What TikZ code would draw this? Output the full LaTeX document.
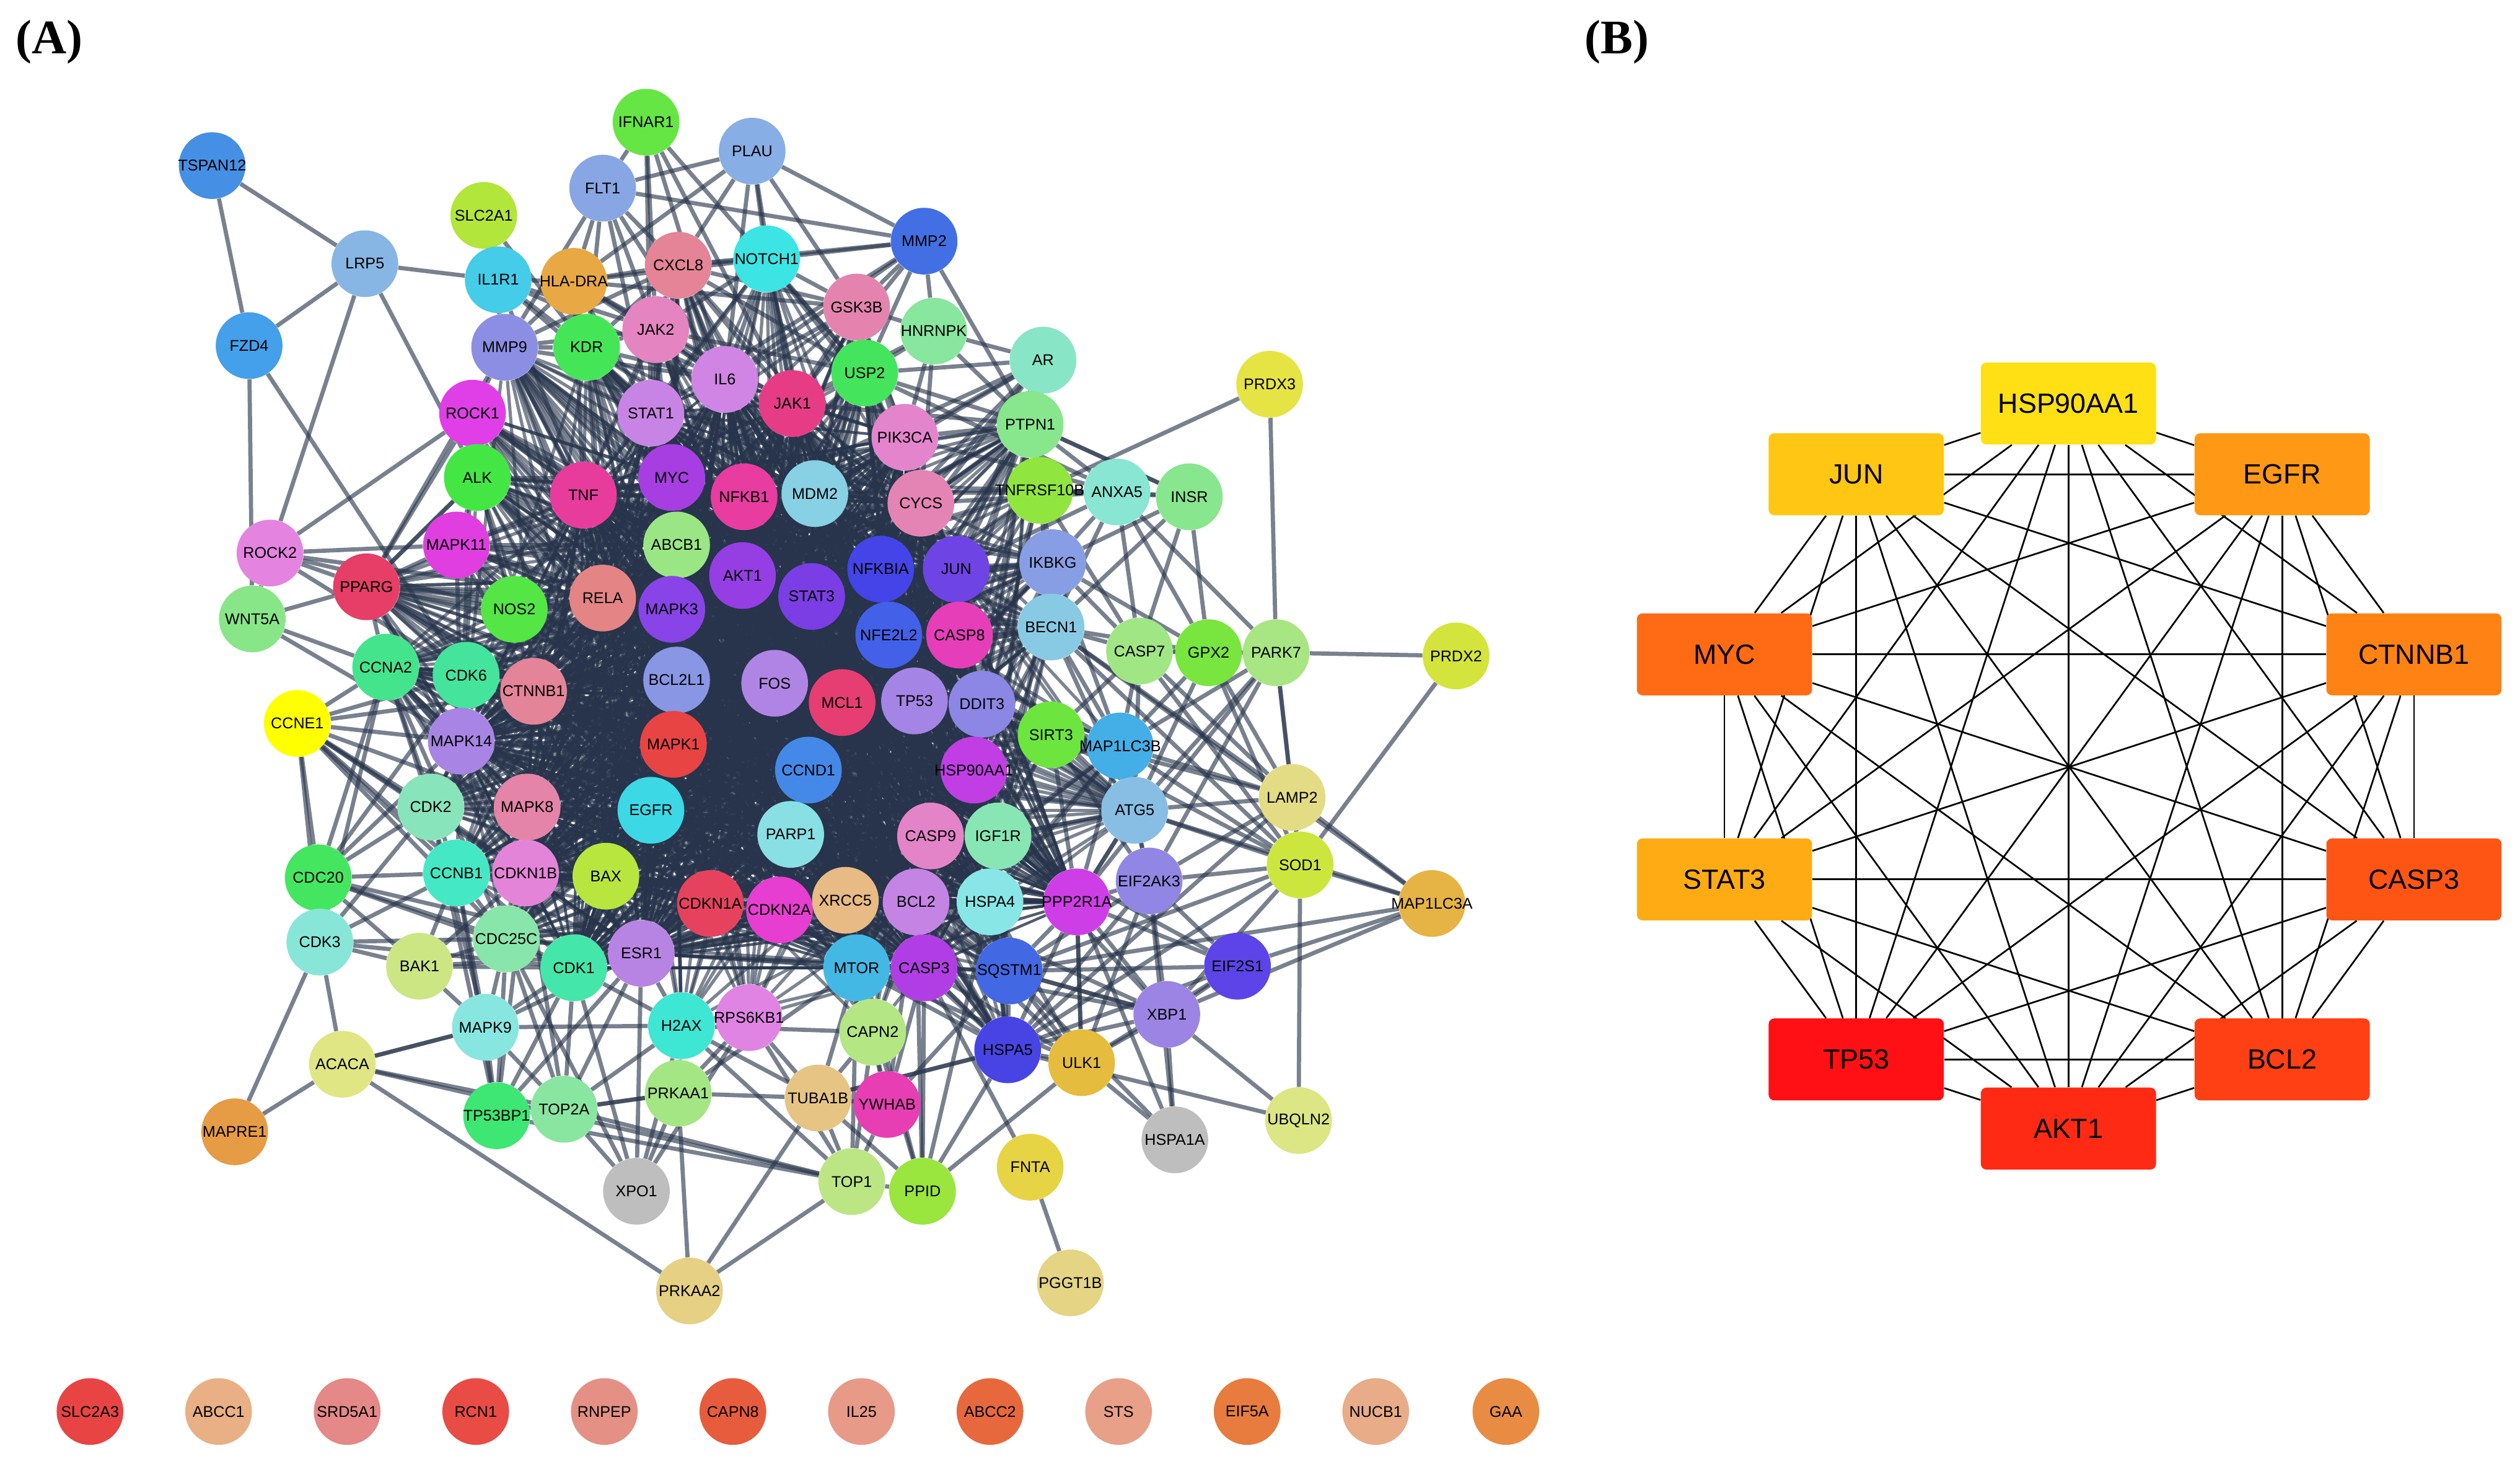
\documentclass[tikz,border=0pt]{standalone}
\usepackage{fontspec}
\setmainfont{Liberation Sans}
\newfontfamily\panelfont{Liberation Serif}
\usetikzlibrary{backgrounds}
\definecolor{edgecol}{HTML}{27344B}
\tikzset{
  gene/.style={circle,inner sep=0pt,minimum size=41.5pt,draw=none,font=\fontsize{9.7}{10}\selectfont,text=black},
  hubgene/.style={rectangle,rounded corners=3.5pt,inner sep=0pt,minimum width=109pt,minimum height=51pt,draw=none,font=\fontsize{17.3}{19}\selectfont,text=black},
  coreedge/.style={draw=edgecol,line width=1.7pt,opacity=.8},
  midedge/.style={draw=edgecol,line width=2pt,opacity=.6},
  outedge/.style={draw=edgecol,line width=2.6pt,opacity=.62},
  hubedge/.style={draw=black,line width=1.05pt},
  paneltag/.style={font=\panelfont\bfseries\fontsize{30}{33}\selectfont,text=black,inner sep=0pt}
}
\def\coreA{MYC,TNF,NFKB1,MDM2,CYCS,ABCB1,AKT1,STAT3,NFKBIA,JUN,NFE2L2,CASP8,RELA,MAPK3,BCL2L1,FOS,MCL1,TP53,DDIT3,MAPK1,CCND1,HSP90AA1,EGFR,PARP1,CASP9,IGF1R,CDKN1A,CDKN2A,XRCC5,BCL2,HSPA4,BAX,MAPK8,CTNNB1,MAPK14,CDKN1B,ESR1,STAT1,JAK1,IL6,PIK3CA,CASP3,MTOR,CDK1,PPP2R1A}
\def\hubsA{AKT1,TP53,JUN,TNF,STAT3,MAPK1,EGFR,CASP3,BCL2,MYC,HSP90AA1,MAPK3,CCND1,FOS}
\def\hubsB{CTNNB1,RELA,MAPK14,NFKB1,CDKN1A,PARP1,CYCS,MDM2,BCL2L1,ESR1,DDIT3,IGF1R,HSPA4,NFE2L2}
\begin{document}
\begin{tikzpicture}[x=1pt,y=-1pt]
\useasboundingbox (0,0) rectangle (1568,910.3);
\node[paneltag,anchor=west] (tagA) at (9.5,26) {(A)};
\node[paneltag,anchor=west] (tagB) at (986,26) {(B)};
\foreach \n/\x/\y/\c in {
TSPAN12/132/103/4590E4,LRP5/227/164/88B6E4,FZD4/155/215/44A0EA,IFNAR1/402/76/66E644,PLAU/468/94/88AEE6,FLT1/375/117/88A6E4,SLC2A1/301/134/B2E63A,IL1R1/310/174/44CCE8,HLA-DRA/357/175/E8A844,CXCL8/422/165/E48496,NOTCH1/477/161/3CE4E4,MMP2/575/150/4270E4,GSK3B/533/191/E484AE,HNRNPK/581/206/88E69E,JAK2/408/205/E484C0,MMP9/314/216/8C8EE4,KDR/365/216/44E658,IL6/451/236/D084E4,AR/649/224/88E6C6,PRDX3/790/239/E6E444,USP2/538/232/44E45C,JAK1/493/251/E63C86,STAT1/405/257/C884E4,ROCK1/294/257/E03EE6,PIK3CA/563/272/E484CC,PTPN1/641/264/88E68C,ALK/297/297/44E644,MYC/418/297/A63EE2,TNF/363/308/E83C9C,NFKB1/463/309/E83CA0,MDM2/507/307/88D0E4,CYCS/573/313/E484B4,TNFRSF10B/647/305/90E63E,ANXA5/695/306/88E6D2,INSR/740/309/88E68E,ABCB1/421/339/9AE684,MAPK11/284/339/E03EE0,ROCK2/168/344/E484E0,PPARG/228/365/E63E66,IKBKG/655/350/889EE4,JUN/595/354/6E44E4,NFKBIA/548/354/4444E8,AKT1/462/358/943EE4,STAT3/505/371/7A3EE4,WNT5A/157/385/88E688,RELA/375/372/E48484,MAPK3/418/379/8844E6,NOS2/320/379/54E644,BECN1/654/390/88CAE4,NFE2L2/553/395/4260E8,CASP8/597/395/E63EB8,CASP7/709/405/A0E684,GPX2/752/406/78E63E,PARK7/794/406/A8E684,PRDX2/906/408/D4E43C,CCNA2/240/415/44E48C,CDK6/290/420/44E49C,BCL2L1/421/423/8896E4,FOS/482/425/B084E4,MCL1/524/437/E63E72,TP53/569/436/A484E4,DDIT3/611/438/8C86E4,CTNNB1/332/430/E48498,CCNE1/185/450/FFFF00,MAPK14/287/461/A884E4,MAPK1/419/463/E84444,SIRT3/654/457/6CE63E,MAP1LC3B/697/464/44AEE6,CCND1/503/479/4488E8,HSP90AA1/606/479/C03EE4,LAMP2/804/496/E4DC84,CDK2/268/502/88E4BA,MAPK8/328/502/E484A8,EGFR/405/504/3CD8E6,ATG5/706/504/88BEE4,PARP1/492/519/88E0E4,CASP9/579/520/E484C8,IGF1R/621/520/88E6B4,SOD1/809/538/CCE63E,CCNB1/284/543/44E8C4,CDKN1B/327/543/E484D8,BAX/377/545/B8E63E,CDC20/198/546/44E660,EIF2AK3/715/548/9286E4,CDKN1A/442/562/E6425E,CDKN2A/485/566/E63ED0,XRCC5/526/560/E8BA84,BCL2/570/561/C484E4,HSPA4/616/561/88E6E6,PPP2R1A/670/561/CE3EE6,MAP1LC3A/891/562/E6B444,CDK3/199/586/88E6D8,CDC25C/315/584/88E6AA,BAK1/261/601/CCE684,CDK1/357/602/44E6AA,ESR1/399/593/B884E4,MTOR/533/602/44B8E4,CASP3/575/602/B03EE4,SQSTM1/628/604/4268E4,EIF2S1/770/601/5C44E8,H2AX/424/638/3EE6D4,RPS6KB1/466/633/E084E4,XBP1/726/631/9C84E4,CAPN2/543/642/B4E684,MAPK9/302/639/88E6E0,HSPA5/627/653/4844E4,ULK1/673/661/E6BC3E,ACACA/213/662/E0E684,PRKAA1/422/680/A4E684,TUBA1B/509/683/E6C484,YWHAB/552/687/E83EB4,TOP2A/351/690/88E6A0,TP53BP1/309/694/3EE674,UBQLN2/808/697/DCE684,MAPRE1/146/704/E69C44,HSPA1A/731/709/BEBEBE,FNTA/641/726/E6D444,TOP1/530/735/BCE684,PPID/574/741/9AE63E,XPO1/396/741/BEBEBE,PGGT1B/666/798/E4D484,PRKAA2/429/803/E6D084,
SLC2A3/56/878/E84444,ABCC1/136/878/E8B084,SRD5A1/216/878/E48888,RCN1/296/878/E84C44,RNPEP/376/878/E49084,CAPN8/456/878/E85C3E,IL25/536/878/E89A88,ABCC2/616/878/E8683E,STS/696/878/E8A088,EIF5A/776/878/E87C3E,NUCB1/856/878/E8AC88,GAA/937/878/E88C44}{
  \definecolor{nodecol}{HTML}{\c}
  \node[gene,fill=nodecol] (\n) at (\x,\y) {\makebox[0pt]{\n}};
}
\foreach \n/\x/\y/\c in {HSP90AA1/1287/251/FFE014,JUN/1155/295/FFC613,EGFR/1420/295/FF9915,MYC/1073/407/FF6B14,CTNNB1/1502/407/FF8214,STAT3/1073/547/FFAC14,CASP3/1502/547/FF5514,TP53/1155/659/FF1014,BCL2/1420/659/FF4014,AKT1/1287/702/FF2A14}{
  \definecolor{nodecol}{HTML}{\c}
  \node[hubgene,fill=nodecol] (b\n) at (\x,\y) {\n};
}
\begin{pgfonlayer}{background}
\fill[white] (0,0) rectangle (1568,910.3);
% panel B: complete graph
\foreach \a/\L in {HSP90AA1/{JUN,EGFR,MYC,CTNNB1,STAT3,CASP3,TP53,BCL2,AKT1},JUN/{EGFR,MYC,CTNNB1,STAT3,CASP3,TP53,BCL2,AKT1},EGFR/{MYC,CTNNB1,STAT3,CASP3,TP53,BCL2,AKT1},MYC/{CTNNB1,STAT3,CASP3,TP53,BCL2,AKT1},CTNNB1/{STAT3,CASP3,TP53,BCL2,AKT1},STAT3/{CASP3,TP53,BCL2,AKT1},CASP3/{TP53,BCL2,AKT1},TP53/{BCL2,AKT1},BCL2/{AKT1}}{
  \foreach \b in \L {\draw[hubedge] (b\a) -- (b\b);}
}
% panel A: dense core
\foreach \a [count=\i] in \coreA {
  \foreach \b [count=\j] in \coreA {
    \ifnum\j>\i \draw[coreedge] (\a) -- (\b);\fi
  }
}
% panel A: middle ring to the hubs
\foreach \a in {MMP9,KDR,JAK2,ROCK1,ALK,MAPK11,PPARG,NOS2,CCNA2,CDK6,CDK2,CCNB1,CDC25C,H2AX,RPS6KB1,USP2,GSK3B,NOTCH1,CXCL8,PTPN1,TNFRSF10B,IKBKG,BECN1,SIRT3,MAP1LC3B,ATG5,SQSTM1,HSPA5,CAPN2}{
  \foreach \b in \hubsA {\draw[midedge] (\a) -- (\b);}
}
\foreach \a in {MMP9,KDR,ALK,PPARG,CCNA2,CDK6,CDK2,CCNB1,CDC25C,USP2,PTPN1,IKBKG,BECN1,ATG5,SQSTM1}{
  \foreach \b in \hubsB {\draw[midedge] (\a) -- (\b);}
}
% panel A: outer connectors
\foreach \a/\L in {
TSPAN12/{LRP5,FZD4},LRP5/{FZD4,IL1R1,ALK,ROCK2},FZD4/{WNT5A,CDK6},
IFNAR1/{FLT1,JAK2,STAT1,JAK1,IL6,USP2},PLAU/{MMP2,FLT1,HLA-DRA,CXCL8,NOTCH1,IL6,JAK1,GSK3B},
FLT1/{HLA-DRA,KDR,MMP2,CXCL8,JAK2,IL6,STAT1,MMP9},SLC2A1/{IL1R1,KDR,MMP9},
IL1R1/{HLA-DRA,KDR,JAK2,IL6,STAT1,TNF},HLA-DRA/{CXCL8,NOTCH1,GSK3B,KDR,MMP9,JAK2,STAT1,IL6,TNF,JAK1},
CXCL8/{NOTCH1,MMP9,KDR,JAK2,STAT1,IL6,JAK1,USP2,GSK3B},NOTCH1/{MMP2,GSK3B,USP2,JAK2,IL6,JAK1,STAT1,PIK3CA},
MMP2/{GSK3B,HNRNPK,USP2,JAK1,IL6,PTPN1,CXCL8,STAT1},GSK3B/{HNRNPK,USP2,IL6,JAK1,PIK3CA,CYCS,MDM2},
HNRNPK/{AR,USP2,PIK3CA,PTPN1,CYCS,JAK1},AR/{PTPN1,USP2,PIK3CA,CYCS,NFKBIA,MDM2,JUN,STAT3,NFKB1,CASP8},
PRDX3/{PARK7,TNFRSF10B},PTPN1/{ANXA5,INSR,USP2,PIK3CA,CYCS,TNFRSF10B,JAK1},
TNFRSF10B/{ANXA5,INSR,BECN1,CASP7,IKBKG},ANXA5/{INSR,CASP7,PARK7,GPX2,BECN1,IKBKG,USP2,PIK3CA,JUN,CYCS,MDM2},
INSR/{CASP7,GPX2,IKBKG,PTPN1,BECN1},IKBKG/{CASP7,GPX2,MAP1LC3B},BECN1/{CASP7,LAMP2,ATG5,MAP1LC3B,GPX2,MAP1LC3A,SOD1},
CASP7/{GPX2,PARK7,LAMP2,SOD1,MAP1LC3B,ATG5,SIRT3},GPX2/{PARK7,LAMP2,SOD1,ATG5,MAP1LC3B},
PARK7/{PRDX2,LAMP2,SOD1,ATG5,MAP1LC3B,EIF2AK3,PPP2R1A},PRDX2/{SOD1},
LAMP2/{SOD1,MAP1LC3A,ATG5,MAP1LC3B,SIRT3,EIF2AK3,HSPA5},SOD1/{MAP1LC3A,UBQLN2,EIF2AK3,XBP1,ATG5,MAP1LC3B,SIRT3,HSPA5,SQSTM1},
MAP1LC3A/{EIF2S1,XBP1,SQSTM1,ATG5},EIF2AK3/{EIF2S1,XBP1,HSPA1A,ULK1,HSPA5,SQSTM1,PPP2R1A,MAP1LC3B,SIRT3},
EIF2S1/{XBP1,SQSTM1,HSPA5,ULK1,IGF1R,PPP2R1A},XBP1/{UBQLN2,ULK1,HSPA5,SQSTM1,CASP3,HSPA1A,BCL2,IGF1R},
SQSTM1/{HSPA5,ULK1,CASP3,XBP1,HSPA1A,YWHAB},HSPA5/{ULK1,UBQLN2,TUBA1B,CASP3,PPID,MTOR,BCL2,HSPA4,IGF1R},
ULK1/{PPID,HSPA1A,PPP2R1A,HSPA4,BCL2,MTOR,CASP3},PPP2R1A/{HSPA1A,ULK1,HSPA5,SQSTM1,XBP1,MAP1LC3B,SIRT3,ATG5},
FNTA/{PGGT1B,CASP3},PPID/{CASP3,BCL2,MTOR,TUBA1B,TOP1,HSPA4,XRCC5},
TOP1/{TOP2A,TP53BP1,TUBA1B,YWHAB,CAPN2,MTOR,RPS6KB1,H2AX},PRKAA2/{ACACA,PRKAA1,TUBA1B,TOP1},
ACACA/{MAPRE1,TOP2A,MAPK9,CDK3,TOP1},MAPRE1/{CDK3},XPO1/{TOP2A,PRKAA1,H2AX,CDK1,CDC25C,RPS6KB1,ESR1},
TOP2A/{PRKAA1,TP53BP1,CDK1,ESR1,H2AX,MAPK9,CDC25C,CDKN1B},TP53BP1/{CDK1,ESR1,MAPK9,CDC25C,CDK2,CCNB1,CDKN1B},
PRKAA1/{H2AX,RPS6KB1,TUBA1B,MTOR,TOP2A},TUBA1B/{YWHAB,CAPN2,RPS6KB1,MTOR,H2AX,HSPA5},YWHAB/{CAPN2,CASP3,MTOR,BCL2},
MAPK9/{BAK1,CDK1,H2AX,ESR1,CDC25C,CCNB1,CDK2,ACACA},BAK1/{CDC20,CDC25C,CDK1,CCNB1,CDK3,ESR1,CDKN1B},
CDK3/{CDC20,CCNB1,CDC25C,CCNA2,CDK2,CDK1,CCNE1},CDC20/{CCNE1,CCNB1,CDC25C,CDK1,CCNA2,CDK2,CDK6,MAPK14,ESR1},
CCNE1/{CCNA2,CDK6,CDK2,CCNB1,MAPK14,CDK1,CDC25C,CTNNB1,CDKN1B,MAPK8,ESR1},CCNA2/{CDK6,CDK2,CCNB1,CDC25C,CDK1,WNT5A,MAPK14,CDKN1B,CTNNB1,MAPK8,ESR1},
WNT5A/{PPARG,MAPK14,ROCK2},ROCK2/{ROCK1,MAPK11,PPARG,NOS2,RELA,CDK6},PPARG/{MAPK11,ROCK1,NOS2,CCNA2,CDK6,CTNNB1,ALK,MAPK14,MMP9,CDKN1B},
ALK/{MAPK11,PPARG,NOS2},MAPK11/{NOS2,RELA,MAPK14,CTNNB1,ABCB1},ROCK1/{MMP9,TNF,RELA,ABCB1,MAPK14},
MMP9/{KDR,JAK2,TNF,IL6},KDR/{JAK2,IL6,STAT1},JAK2/{IL6,STAT1,JAK1,USP2},CDC25C/{CCNB1,CDK1,ESR1,CDKN1B},H2AX/{RPS6KB1,CDK1,ESR1,CAPN2},
MAPK14/{CDK6,CDK2},SIRT3/{MAP1LC3B,ATG5,IGF1R,DDIT3},MAP1LC3B/{ATG5,IGF1R,HSPA4},ATG5/{IGF1R,EIF2AK3,PPP2R1A}}{
  \foreach \b in \L {\draw[outedge] (\a) -- (\b);}
}
\end{pgfonlayer}
\end{tikzpicture}
\end{document}
